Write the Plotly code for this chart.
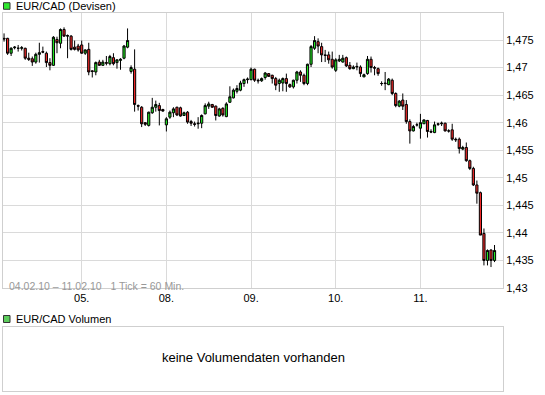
import plotly.graph_objects as go

# ---- data (hourly EUR/CAD, 04.02.10 - 11.02.10) ----
open_ = [
    1.4753, 1.4753, 1.4726, 1.4736, 1.4735, 1.4735, 1.4735, 1.4717, 1.4716, 1.4710,
    1.4724, 1.4729, 1.4726, 1.4709, 1.4704, 1.4751, 1.4744, 1.4769, 1.4757, 1.4757,
    1.4737, 1.4739, 1.4741, 1.4726, 1.4733, 1.4694, 1.4692, 1.4710, 1.4704, 1.4709,
    1.4707, 1.4718, 1.4709, 1.4713, 1.4717, 1.4737, 1.4693, 1.4697, 1.4631, 1.4628,
    1.4600, 1.4595, 1.4618, 1.4628, 1.4631, 1.4624, 1.4596, 1.4610, 1.4618, 1.4628,
    1.4627, 1.4613, 1.4619, 1.4602, 1.4598, 1.4598, 1.4599, 1.4616, 1.4630, 1.4633,
    1.4630, 1.4612, 1.4626, 1.4611, 1.4637, 1.4645, 1.4657, 1.4659, 1.4671, 1.4678,
    1.4678, 1.4697, 1.4677, 1.4676, 1.4682, 1.4689, 1.4686, 1.4680, 1.4671, 1.4672,
    1.4680, 1.4669, 1.4665, 1.4677, 1.4692, 1.4686, 1.4671, 1.4706, 1.4735, 1.4747,
    1.4738, 1.4723, 1.4723, 1.4715, 1.4695, 1.4712, 1.4710, 1.4718, 1.4704, 1.4698,
    1.4701, 1.4701, 1.4683, 1.4689, 1.4715, 1.4700, 1.4698, 1.4671, 1.4672, 1.4669,
    1.4677, 1.4653, 1.4630, 1.4641, 1.4633, 1.4602, 1.4585, 1.4596, 1.4590, 1.4598,
    1.4604, 1.4584, 1.4582, 1.4598, 1.4598, 1.4599, 1.4585, 1.4587, 1.4570, 1.4570,
    1.4552, 1.4555, 1.4531, 1.4517, 1.4487, 1.4473, 1.4399, 1.4350, 1.4369, 1.4350,
]
high = [
    1.4762, 1.4754, 1.4737, 1.4739, 1.4741, 1.4739, 1.4736, 1.4727, 1.4720, 1.4727,
    1.4745, 1.4738, 1.4729, 1.4717, 1.4757, 1.4756, 1.4771, 1.4773, 1.4760, 1.4759,
    1.4749, 1.4743, 1.4749, 1.4733, 1.4745, 1.4695, 1.4711, 1.4714, 1.4714, 1.4721,
    1.4723, 1.4726, 1.4715, 1.4717, 1.4741, 1.4771, 1.4704, 1.4733, 1.4633, 1.4630,
    1.4601, 1.4620, 1.4645, 1.4640, 1.4636, 1.4625, 1.4610, 1.4622, 1.4628, 1.4629,
    1.4629, 1.4620, 1.4621, 1.4605, 1.4602, 1.4610, 1.4615, 1.4635, 1.4638, 1.4634,
    1.4631, 1.4627, 1.4628, 1.4637, 1.4666, 1.4662, 1.4668, 1.4676, 1.4680, 1.4682,
    1.4700, 1.4698, 1.4680, 1.4682, 1.4692, 1.4690, 1.4687, 1.4683, 1.4680, 1.4682,
    1.4689, 1.4671, 1.4678, 1.4694, 1.4695, 1.4689, 1.4707, 1.4741, 1.4757, 1.4753,
    1.4745, 1.4732, 1.4729, 1.4729, 1.4717, 1.4723, 1.4723, 1.4720, 1.4710, 1.4704,
    1.4709, 1.4704, 1.4689, 1.4721, 1.4720, 1.4703, 1.4700, 1.4675, 1.4692, 1.4681,
    1.4680, 1.4655, 1.4641, 1.4653, 1.4641, 1.4606, 1.4596, 1.4600, 1.4616, 1.4606,
    1.4605, 1.4588, 1.4602, 1.4600, 1.4602, 1.4600, 1.4588, 1.4598, 1.4573, 1.4573,
    1.4558, 1.4564, 1.4533, 1.4520, 1.4495, 1.4475, 1.4408, 1.4370, 1.4370, 1.4378,
]
low = [
    1.4747, 1.4723, 1.4721, 1.4733, 1.4729, 1.4731, 1.4714, 1.4712, 1.4703, 1.4707,
    1.4709, 1.4726, 1.4701, 1.4695, 1.4703, 1.4726, 1.4735, 1.4756, 1.4717, 1.4731,
    1.4731, 1.4729, 1.4725, 1.4723, 1.4686, 1.4682, 1.4686, 1.4703, 1.4703, 1.4704,
    1.4704, 1.4704, 1.4698, 1.4696, 1.4715, 1.4735, 1.4689, 1.4620, 1.4622, 1.4592,
    1.4594, 1.4593, 1.4616, 1.4620, 1.4595, 1.4620, 1.4584, 1.4607, 1.4610, 1.4612,
    1.4611, 1.4612, 1.4598, 1.4594, 1.4593, 1.4589, 1.4590, 1.4615, 1.4625, 1.4627,
    1.4604, 1.4611, 1.4611, 1.4610, 1.4636, 1.4644, 1.4653, 1.4657, 1.4665, 1.4671,
    1.4677, 1.4674, 1.4671, 1.4674, 1.4678, 1.4683, 1.4671, 1.4659, 1.4656, 1.4657,
    1.4656, 1.4663, 1.4662, 1.4671, 1.4674, 1.4668, 1.4668, 1.4701, 1.4732, 1.4726,
    1.4710, 1.4710, 1.4707, 1.4698, 1.4692, 1.4710, 1.4709, 1.4701, 1.4696, 1.4697,
    1.4695, 1.4683, 1.4683, 1.4687, 1.4691, 1.4686, 1.4685, 1.4667, 1.4659, 1.4668,
    1.4650, 1.4628, 1.4628, 1.4623, 1.4598, 1.4562, 1.4584, 1.4593, 1.4571, 1.4598,
    1.4573, 1.4581, 1.4581, 1.4594, 1.4594, 1.4584, 1.4582, 1.4567, 1.4565, 1.4544,
    1.4550, 1.4529, 1.4514, 1.4485, 1.4453, 1.4396, 1.4341, 1.4341, 1.4338, 1.4347,
]
close = [
    1.4752, 1.4726, 1.4735, 1.4737, 1.4735, 1.4736, 1.4717, 1.4715, 1.4710, 1.4724,
    1.4727, 1.4728, 1.4709, 1.4704, 1.4755, 1.4745, 1.4769, 1.4757, 1.4758, 1.4733,
    1.4733, 1.4732, 1.4726, 1.4732, 1.4692, 1.4693, 1.4709, 1.4704, 1.4710, 1.4708,
    1.4720, 1.4707, 1.4714, 1.4715, 1.4739, 1.4749, 1.4700, 1.4633, 1.4630, 1.4598,
    1.4597, 1.4619, 1.4628, 1.4633, 1.4622, 1.4621, 1.4607, 1.4619, 1.4625, 1.4614,
    1.4612, 1.4618, 1.4601, 1.4599, 1.4597, 1.4599, 1.4613, 1.4631, 1.4634, 1.4628,
    1.4613, 1.4625, 1.4614, 1.4634, 1.4647, 1.4659, 1.4662, 1.4672, 1.4678, 1.4679,
    1.4697, 1.4677, 1.4676, 1.4680, 1.4690, 1.4684, 1.4680, 1.4668, 1.4677, 1.4680,
    1.4671, 1.4665, 1.4677, 1.4692, 1.4686, 1.4671, 1.4706, 1.4738, 1.4749, 1.4739,
    1.4723, 1.4722, 1.4714, 1.4701, 1.4714, 1.4715, 1.4717, 1.4703, 1.4698, 1.4701,
    1.4702, 1.4689, 1.4687, 1.4715, 1.4700, 1.4699, 1.4689, 1.4671, 1.4671, 1.4679,
    1.4653, 1.4631, 1.4639, 1.4630, 1.4602, 1.4585, 1.4593, 1.4596, 1.4600, 1.4605,
    1.4584, 1.4583, 1.4596, 1.4597, 1.4599, 1.4585, 1.4585, 1.4570, 1.4569, 1.4553,
    1.4555, 1.4531, 1.4517, 1.4487, 1.4472, 1.4396, 1.4350, 1.4368, 1.4350, 1.4368,
]
hour_index = list(range(len(close)))

day_start_index = [22, 46, 70, 94, 118]
day_labels = ["05.", "08.", "09.", "10.", "11."]

price_ticks = [1.43, 1.435, 1.44, 1.445, 1.45, 1.455, 1.46, 1.465, 1.47, 1.475]
price_labels = ["1,43", "1,435", "1,44", "1,445", "1,45", "1,455", "1,46", "1,465", "1,47", "1,475"]

# ---- figure ----
GRID = "#dadada"
FRAME = "#cfcfcf"
FONT = "Liberation Sans, Arial, sans-serif"

fig = go.Figure()
fig.add_trace(go.Candlestick(
    x=hour_index, open=open_, high=high, low=low, close=close,
    increasing=dict(fillcolor="#22e622", line=dict(color="#000000", width=1)),
    decreasing=dict(fillcolor="#f02828", line=dict(color="#000000", width=1)),
    whiskerwidth=0, hoverinfo="skip", showlegend=False,
))

fig.update_layout(
    width=545, height=395,
    margin=dict(l=3, r=42, t=13, b=4),
    paper_bgcolor="white", plot_bgcolor="white",
    font=dict(family=FONT, size=11, color="#000000"),
    showlegend=False,
    boxgap=0.12,
    xaxis=dict(
        domain=[0, 1], anchor="y",
        range=[-0.3, 141.4],
        tickmode="array", tickvals=day_start_index, ticktext=day_labels,
        showgrid=True, gridcolor=GRID, gridwidth=1,
        showline=True, mirror=True, linecolor=FRAME, linewidth=1,
        ticks="", zeroline=False, rangeslider=dict(visible=False),
        tickfont=dict(size=11, color="#000000"),
        fixedrange=True, automargin=False,
    ),
    yaxis=dict(
        domain=[0.2725, 1], anchor="x", side="right",
        range=[1.43, 1.4799],
        tickmode="array", tickvals=price_ticks, ticktext=price_labels,
        showgrid=True, gridcolor=GRID, gridwidth=1,
        showline=True, mirror=True, linecolor=FRAME, linewidth=1,
        ticks="", zeroline=False,
        tickfont=dict(size=11, color="#000000"),
        fixedrange=True, automargin=False,
    ),
    xaxis2=dict(
        domain=[0, 1], anchor="y2", range=[0, 1],
        showgrid=False, showticklabels=False, ticks="", zeroline=False,
        showline=True, mirror=True, linecolor=FRAME, linewidth=1,
        fixedrange=True, automargin=False,
    ),
    yaxis2=dict(
        domain=[0, 0.1693], anchor="x2", range=[0, 1],
        showgrid=False, showticklabels=False, ticks="", zeroline=False,
        showline=True, mirror=True, linecolor=FRAME, linewidth=1,
        fixedrange=True, automargin=False,
    ),
)

# invisible trace so the volume axes render
fig.add_trace(go.Scatter(x=[0.5], y=[0.5], xaxis="x2", yaxis="y2", mode="markers",
                         marker=dict(opacity=0), hoverinfo="skip", showlegend=False))

# legend squares
fig.add_shape(type="rect", xref="paper", yref="paper",
              x0=0.001, x1=0.014, y0=1.0098, y1=1.0272,
              fillcolor="#2fe82f", line=dict(color="#333333", width=1))
fig.add_shape(type="rect", xref="paper", yref="paper",
              x0=0.001, x1=0.014, y0=0.1812, y1=0.1997,
              fillcolor="#5ccc5c", line=dict(color="#333333", width=1))

fig.add_annotation(text="EUR/CAD (Devisen)", xref="paper", yref="paper",
                   x=0.021, y=1.0185, xanchor="left", yanchor="middle",
                   showarrow=False, font=dict(size=11, color="#000000"))
fig.add_annotation(text="EUR/CAD Volumen", xref="paper", yref="paper",
                   x=0.021, y=0.1905, xanchor="left", yanchor="middle",
                   showarrow=False, font=dict(size=11, color="#000000"))
fig.add_annotation(text="keine Volumendaten vorhanden", xref="paper", yref="paper",
                   x=0.5, y=0.0886, xanchor="center", yanchor="middle",
                   showarrow=False, font=dict(size=13, color="#000000"))
fig.add_annotation(text="04.02.10 \u2013 11.02.10\u00a0\u00a0\u00a01 Tick = 60 Min.",
                   xref="paper", yref="paper",
                   x=0.008, y=0.2775, xanchor="left", yanchor="middle",
                   showarrow=False, font=dict(size=10.5, color="#999999"))

fig.write_html(
    "out.html",
    config={"displayModeBar": False, "staticPlot": True},
    post_script="document.body.style.margin='0';document.body.style.padding='0';",
)
